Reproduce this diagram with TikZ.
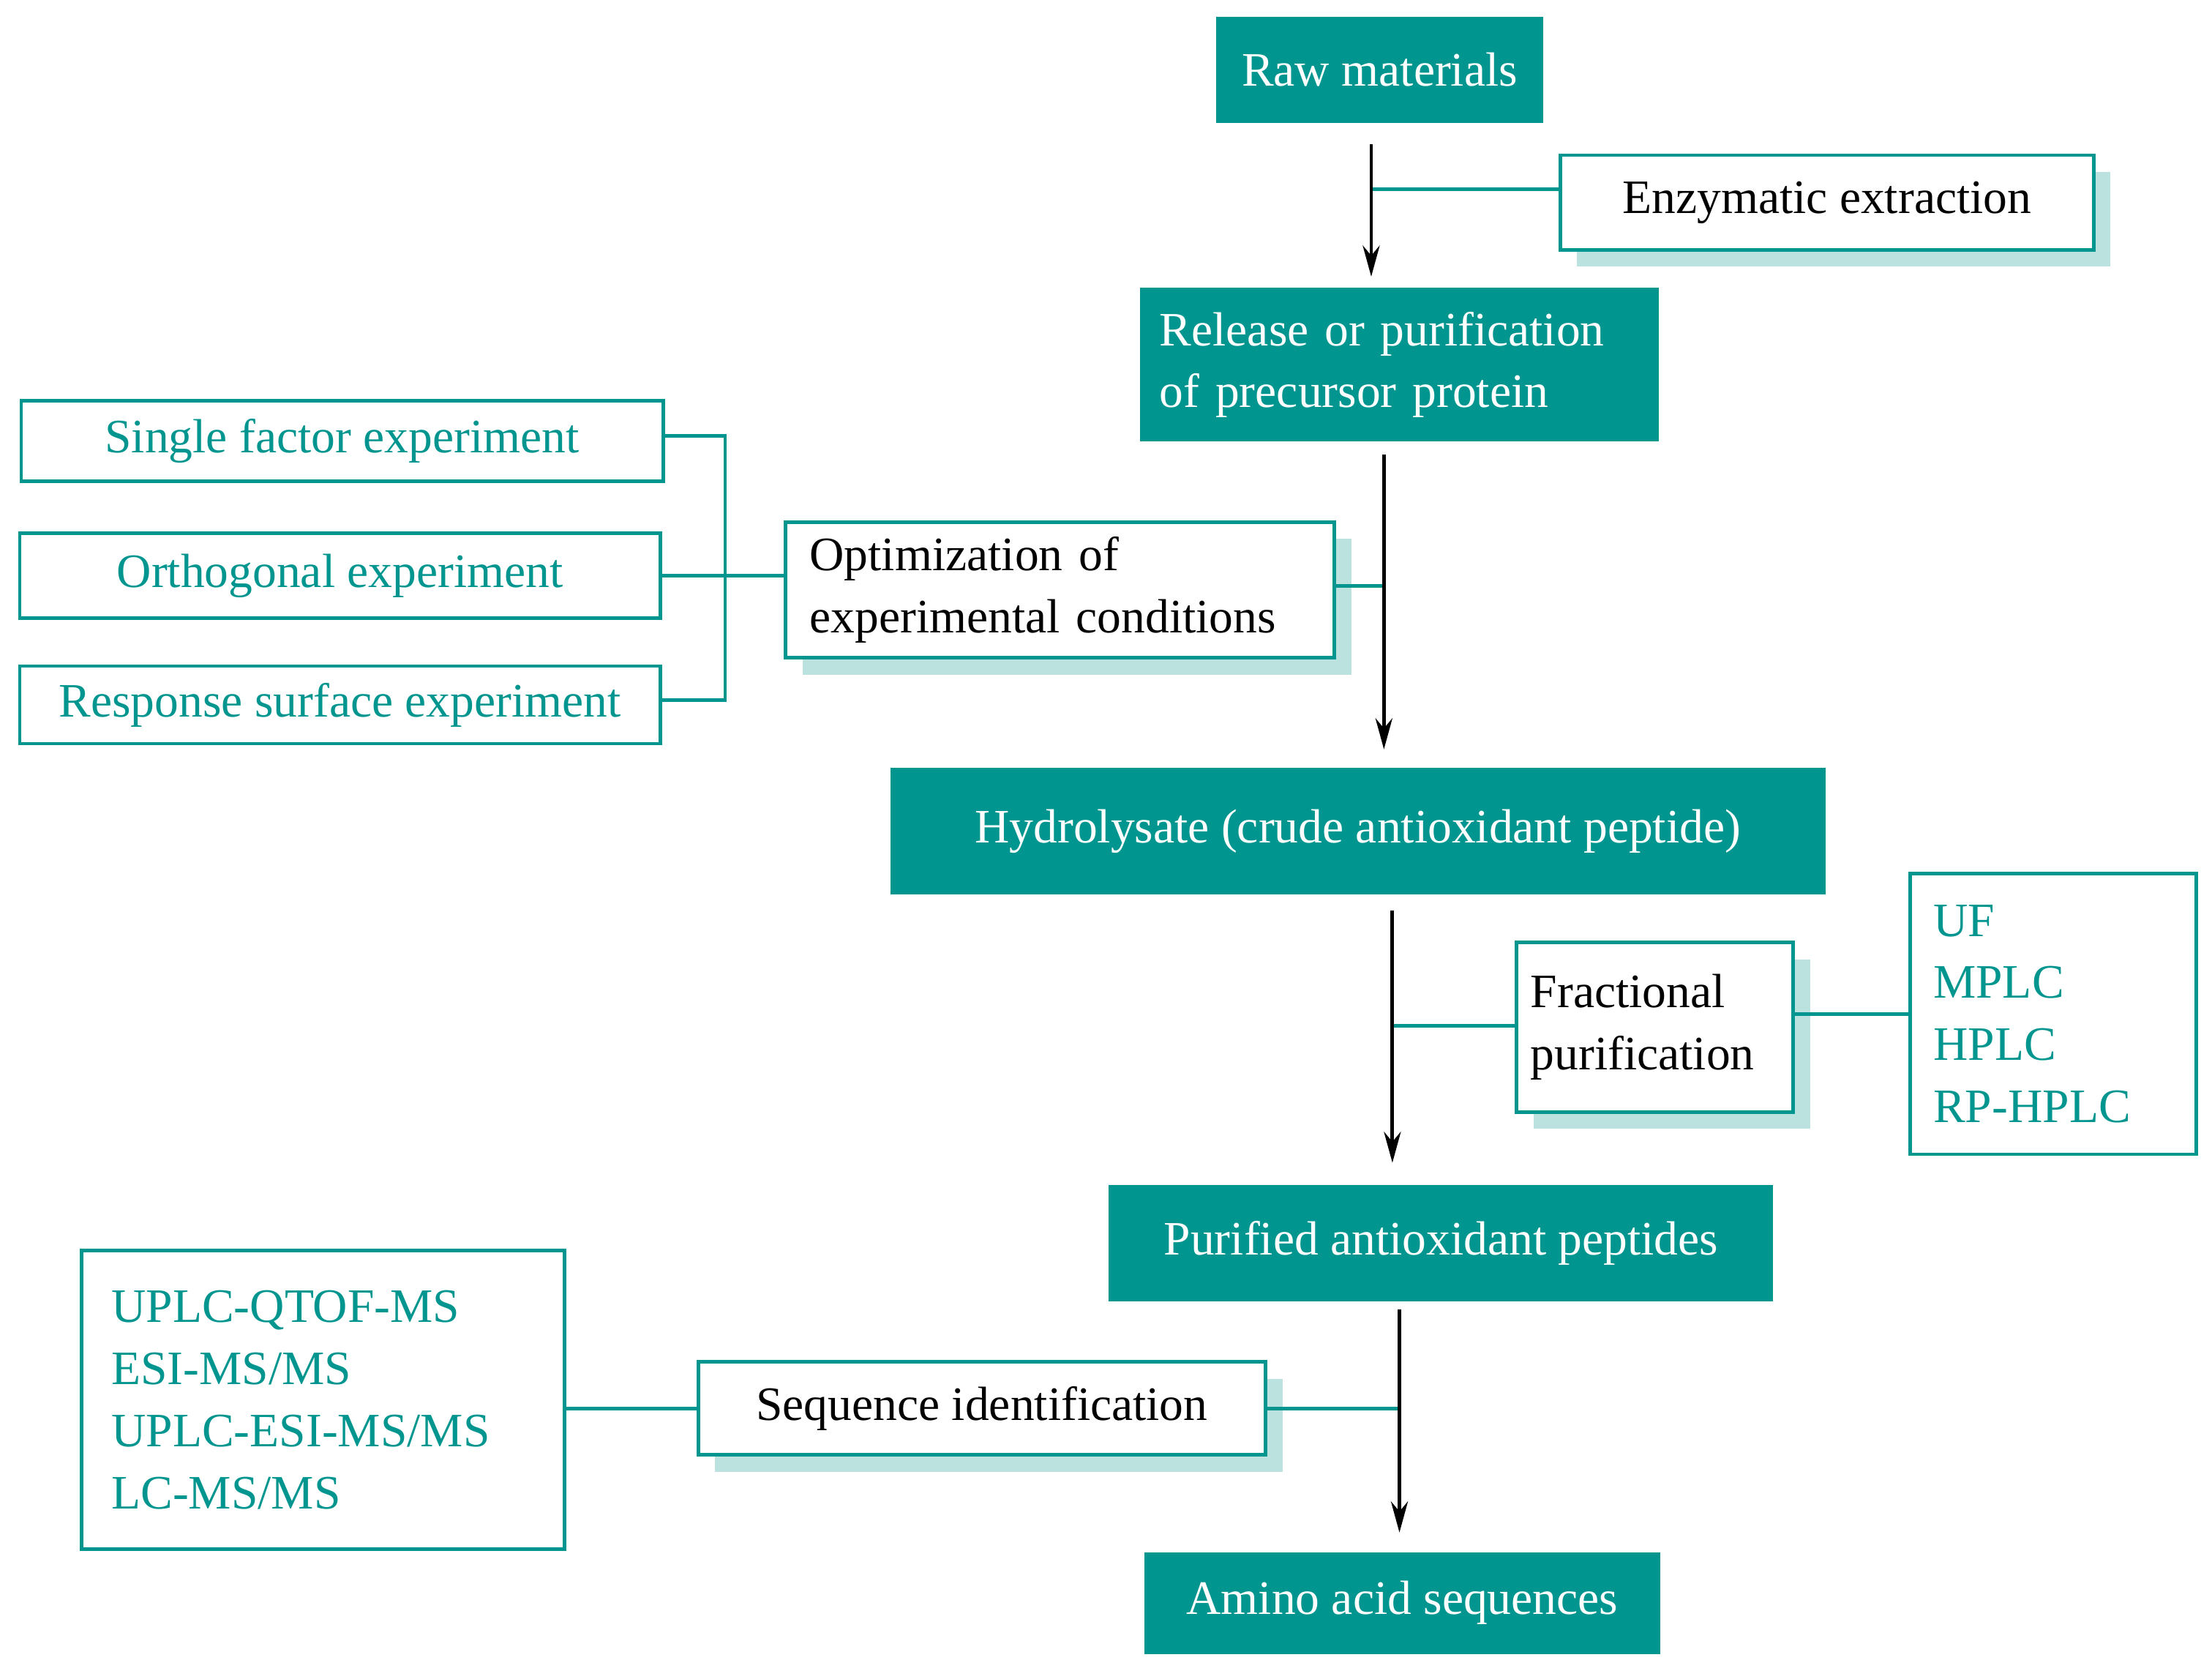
\documentclass[tikz,border=0pt]{standalone}
\usepackage{fontspec}
\setmainfont{Liberation Serif}
\usetikzlibrary{shadows,arrows.meta}
\definecolor{teal1}{HTML}{00968F}
\definecolor{shad}{HTML}{BCE2E0}
\begin{document}
\begin{tikzpicture}[x=1pt,y=-1pt,
  every node/.style={font=\fontsize{34}{44}\selectfont, inner sep=0pt},
  fbox/.style={fill=teal1, text=white, align=left},
  wbox/.style={draw=teal1, line width=2.5pt, fill=white, align=left,
     drop shadow={shadow xshift=12pt, shadow yshift=-12pt, fill=shad, opacity=1}},
  tbox/.style={draw=teal1, line width=2.5pt, fill=white, text=teal1, align=left},
  tl/.style={draw=teal1, line width=2.5pt},
  arr/.style={draw=black, line width=2.5pt, -{Stealth[length=22pt,width=12pt]}}]
\useasboundingbox (0,0) rectangle (1568,1184);
% nodes
\node[fbox, minimum width=232, minimum height=75] (raw) at (978,49.5) {Raw materials};
\node[wbox, minimum width=378, minimum height=67] (enz) at (1295,143.5) {Enzymatic extraction};
\node[fbox, minimum width=368, minimum height=109, text width=340] (rel) at (992,258.5) {Release or purification\\of precursor protein};
\node[wbox, minimum width=389, minimum height=96, text width=355] (opt) at (751.5,418) {Optimization of\\experimental conditions};
\node[tbox, minimum width=455, minimum height=57, align=center] (sfe) at (242.5,312.5) {Single factor experiment};
\node[tbox, minimum width=454, minimum height=60, align=center] (ort) at (241,408) {Orthogonal experiment};
\node[tbox, minimum width=454, minimum height=55, align=center] (rse) at (241,499.5) {Response surface experiment};
\node[fbox, minimum width=663, minimum height=90, align=center] (hyd) at (962.5,589) {Hydrolysate (crude antioxidant peptide)};
\node[wbox, minimum width=196, minimum height=120, text width=176] (fra) at (1173,728) {Fractional\\purification};
\node[tbox, minimum width=203, minimum height=199, text width=170] (uf) at (1455.5,718.5) {UF\\MPLC\\HPLC\\RP-HPLC};
\node[fbox, minimum width=471, minimum height=82, align=center] (pur) at (1021.5,881) {Purified antioxidant peptides};
\node[tbox, minimum width=342, minimum height=212, text width=300] (upl) at (229,992) {UPLC-QTOF-MS\\ESI-MS/MS\\UPLC-ESI-MS/MS\\LC-MS/MS};
\node[wbox, minimum width=402, minimum height=66, align=center] (seq) at (696,998) {Sequence identification};
\node[fbox, minimum width=366, minimum height=72, align=center] (ami) at (994,1136) {Amino acid sequences};
% coordinates
\coordinate (a1s) at (972,102); \coordinate (a1e) at (972,196);
\coordinate (a2s) at (981,322); \coordinate (a2e) at (981,531);
\coordinate (a3s) at (987,645); \coordinate (a3e) at (987,824);
\coordinate (a4s) at (992,928); \coordinate (a4e) at (992,1086);
\coordinate (b1) at (972,134); \coordinate (b2) at (981,415);
\coordinate (b3) at (987,727); \coordinate (b4) at (992,998);
\coordinate (br1) at (514,309); \coordinate (br2) at (514,496);
% connectors
\draw[tl] (b1) -- (b1 -| enz.west);
\draw[tl] (opt.east |- b2) -- (b2);
\draw[tl] (b3) -- (b3 -| fra.west);
\draw[tl] (fra.east |- uf.west) -- (uf.west);
\draw[tl] (seq.east |- b4) -- (b4);
\draw[tl] (upl.east |- seq.west) -- (seq.west);
\draw[tl] (sfe.east |- br1) -- (br1) -- (br2) -- (rse.east |- br2);
\draw[tl] (ort.east) -- (opt.west |- ort.east);
\draw[arr] (a1s) -- (a1e);
\draw[arr] (a2s) -- (a2e);
\draw[arr] (a3s) -- (a3e);
\draw[arr] (a4s) -- (a4e);
\end{tikzpicture}
\end{document}
